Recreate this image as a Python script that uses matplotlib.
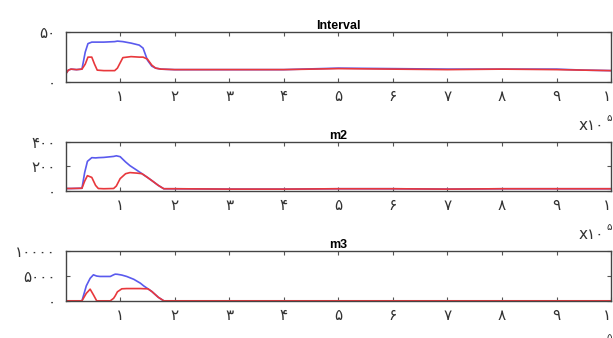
import numpy as np
import matplotlib.pyplot as plt

# داده‌ها (x بر حسب ۱۰^۵)
x_int = [0, 0.05, 0.1, 0.2, 0.3, 0.36, 0.41, 0.48, 0.53, 0.58, 0.7, 0.9, 0.95, 1.05, 1.2,
         1.35, 1.42, 1.5, 1.58, 1.65, 1.75, 2.0, 3, 4, 5, 6, 7, 8, 9, 9.5, 10]
int_blue = [8, 12, 13, 12.5, 13, 30, 38.5, 40, 40, 40, 40, 40.5, 41, 40.5, 39,
            37, 34, 22, 16, 14, 13, 12.5, 12.5, 12.5, 14, 13.5, 13, 13, 13, 12, 11.5]
int_red = [8, 12, 13, 12.5, 13, 18, 25, 25, 18, 12, 11.5, 11.5, 14, 24.5, 25.5,
           25, 25, 23, 17, 14, 13, 12.5, 12.5, 12.5, 13.5, 13, 12.5, 13, 12.5, 12, 11.5]

x_m2 = [0, 0.1, 0.3, 0.35, 0.4, 0.48, 0.55, 0.6, 0.7, 0.88, 0.93, 1.0, 1.1, 1.18, 1.3,
        1.4, 1.5, 1.6, 1.7, 1.8, 2.0, 3, 4, 5, 6, 7, 8, 9, 10]
m2_blue = [20, 20, 22, 150, 240, 270, 268, 270, 272, 280, 285, 278, 235, 205, 170,
           140, 110, 78, 45, 18, 18, 15, 15, 18, 18, 15, 18, 18, 18]
m2_red = [20, 20, 22, 80, 124, 110, 45, 20, 18, 20, 40, 100, 140, 149, 145,
          140, 110, 78, 45, 18, 18, 15, 15, 18, 18, 15, 18, 18, 18]

x_m3 = [0, 0.3, 0.38, 0.45, 0.51, 0.57, 0.63, 0.82, 0.88, 0.91, 0.95, 1.03, 1.12, 1.25,
        1.37, 1.43, 1.51, 1.58, 1.7, 1.8, 2.0, 10]
m3_blue = [0, 0, 3000, 4500, 5200, 4950, 4870, 4870, 5200, 5330, 5300, 5150, 4870, 4300,
           3530, 3000, 2400, 1870, 700, 0, 0, 0]
m3_red = [0, 0, 1500, 2330, 1200, 0, 0, 0, 500, 1000, 1800, 2400, 2450, 2450,
          2450, 2420, 2400, 1870, 700, 0, 0, 0]

titles = ['Interval', 'm2', 'm3']
xticks = list(range(1, 11))
xlabels = ['۱', '۲', '۳', '۴', '۵', '۶', '۷', '۸', '۹', '۱۰']
yticks = [[0, 50], [0, 200, 400], [0, 5000, 10000]]
ylabels = [['۰', '۵۰'], ['۰', '۲۰۰', '۴۰۰'], ['۰', '۵۰۰۰', '۱۰۰۰۰']]
ylims = [50, 400, 10000]

panels = [(x_int, int_blue, int_red), (x_m2, m2_blue, m2_red), (x_m3, m3_blue, m3_red)]
# موقعیت محورها [left, bottom, width, height]
boxes = [[0.107, 0.757, 0.890, 0.148],
         [0.107, 0.435, 0.890, 0.146],
         [0.107, 0.110, 0.890, 0.148]]

fig = plt.figure(figsize=(6.13, 3.38), dpi=100)
fig.patch.set_facecolor('white')

for i in range(3):
    ax = fig.add_axes(boxes[i])
    xs, yb, yr = panels[i]
    ax.plot(xs, yb, color='#5a5aee', lw=1.2)
    ax.plot(xs, yr, color='#e8383c', lw=1.2)
    ax.set_xlim(0, 10)
    ax.set_ylim(0, ylims[i])
    ax.set_xticks(xticks)
    ax.set_xticklabels(xlabels, fontsize=11, family='DejaVu Sans', color='#333333')
    ax.set_yticks(yticks[i])
    ax.set_yticklabels(ylabels[i], fontsize=11, family='DejaVu Sans', color='#333333')
    ax.tick_params(direction='in', top=True, right=True, length=3, width=0.8,
                   color='#555555')
    ax.tick_params(axis='x', pad=5)
    ax.tick_params(axis='y', pad=7)
    for s in ax.spines.values():
        s.set_color('#444444')
        s.set_linewidth(1.0)
    ax.set_title(titles[i], fontsize=9, fontweight='bold', family='Liberation Sans',
                 pad=2)
    # ضریب محور x
    ytxt = boxes[i][1] - 0.128
    fig.text(0.944, ytxt, 'x۱۰', fontsize=11, family='DejaVu Sans', color='#333333',
             ha='left', va='center')
    fig.text(0.989, ytxt + 0.022, '۵', fontsize=7.5, family='DejaVu Sans', color='#333333',
             ha='left', va='center')

fig.savefig('out.png', dpi=100)
